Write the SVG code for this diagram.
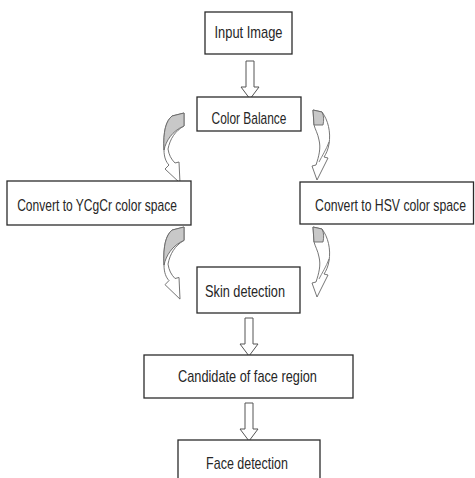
<svg xmlns="http://www.w3.org/2000/svg" width="475" height="478" viewBox="0 0 475 478">
<style>
.box{fill:#fff;stroke:#2b2b2b;stroke-width:1.3}
.lbl{font-family:"Liberation Sans",Arial,sans-serif;font-size:16px;fill:#262626;text-anchor:middle}
.blk{fill:#fff;stroke:#555;stroke-width:1}
.crv{fill:#fff;stroke:#666;stroke-width:0.9;stroke-linejoin:round}
.gry{fill:#c8c8c8;stroke:#666;stroke-width:0.9;stroke-linejoin:round}
</style>
<defs>
<path id="downArrow" d="M-4,0 L4,0 L4,26 L9,26 L0,38 L-9,26 L-4,26 Z"/>
<g id="curveL">
<path class="crv" d="M0,0 L12,3 C18,8 21,18 20,37 C20,44 18,49 15,52 L19,56 L4,70 L5,49 L9,50 C13,46 15,42 16,36 C14,26 9,18 0,13 Z"/>
<path class="gry" d="M0,0 L12,3 C18,8 21,18 20,37 C18,28 12,18 0,13 Z"/>
</g>
<g id="curveR">
<path class="crv" d="M0,0 L9,2 C15,10 18,22 16,34 C15,40 13,44 11,47 L15,48 L4,70 L-1,56 L3,55 C6,46 8,38 6,30 C5,24 2,19 1,15 Z"/>
<path class="gry" d="M0,0 L9,2 C11,6 11,10 10,15 L1,15 Z"/>
<path fill="none" stroke="#666" stroke-width="0.8" d="M16,32 C13,40 9,46 6,52"/>
</g>
</defs>
<g id="connectors">
<use href="#downArrow" class="blk" x="250" y="61"/>
<use href="#downArrow" class="blk" x="249" y="318"/>
<use href="#downArrow" class="blk" x="249" y="403"/>
<use href="#curveL" transform="translate(184,113) scale(-1,1)"/>
<use href="#curveL" transform="translate(184,227) scale(-1,1.03)"/>
<use href="#curveR" transform="translate(313,110)"/>
<use href="#curveR" transform="translate(313,227)"/>
</g>
<g id="input">
<rect class="box" x="205" y="12" width="87" height="42"/>
<text class="lbl" transform="translate(248.5,38) scale(0.805,1)">Input Image</text>
</g>
<g id="colorbalance">
<rect class="box" x="197" y="97" width="104" height="34"/>
<text class="lbl" transform="translate(249,124) scale(0.746,1)">Color Balance</text>
</g>
<g id="ycgcr">
<rect class="box" x="7" y="181" width="184" height="44"/>
<text class="lbl" transform="translate(97,211) scale(0.753,1)">Convert to YCgCr color space</text>
</g>
<g id="hsv">
<rect class="box" x="300" y="182" width="173.5" height="42"/>
<text class="lbl" transform="translate(390.5,211) scale(0.765,1)">Convert to HSV color space</text>
</g>
<g id="skin">
<rect class="box" x="197" y="267" width="103" height="46"/>
<text class="lbl" transform="translate(245,297) scale(0.796,1)">Skin detection</text>
</g>
<g id="candidate">
<rect class="box" x="144" y="355" width="209" height="43"/>
<text class="lbl" transform="translate(247.5,382) scale(0.797,1)">Candidate of face region</text>
</g>
<g id="face">
<rect class="box" x="178" y="440" width="142" height="45"/>
<text class="lbl" transform="translate(247,469) scale(0.78,1)">Face detection</text>
</g>
</svg>
